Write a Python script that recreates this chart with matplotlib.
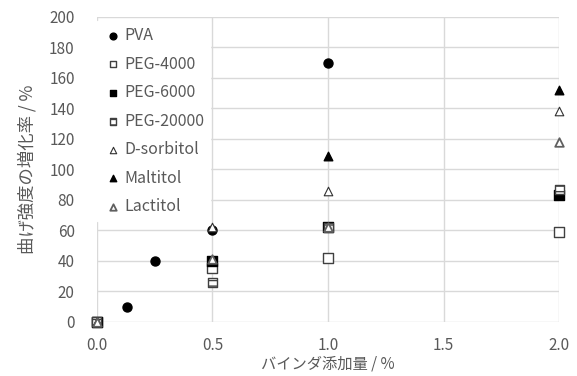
import matplotlib.pyplot as plt
import numpy as np

plt.rcParams['font.family'] = ['Noto Sans CJK JP', 'DejaVu Sans']

# data
pva_x = [0.0, 0.13, 0.25, 0.5, 1.0]
pva_y = [0, 10, 40, 60, 170]
peg4000_x = [0.0, 0.5, 1.0, 2.0]
peg4000_y = [0, 35, 42, 59]
peg6000_x = [0.0, 0.5, 1.0, 2.0]
peg6000_y = [0, 40, 62, 83]
peg20000_x = [0.0, 0.5, 1.0, 2.0]
peg20000_y = [0, 26, 62, 87]
sorbitol_x = [0.0, 0.5, 1.0, 2.0]
sorbitol_y = [0, 62, 86, 138]
maltitol_x = [0.0, 0.5, 1.0, 2.0]
maltitol_y = [0, 40, 109, 152]
lactitol_x = [0.0, 0.5, 1.0, 2.0]
lactitol_y = [0, 41, 62, 118]

grey = '#595959'

fig = plt.figure(figsize=(5.77, 3.76), dpi=100)
ax = fig.add_axes([0.168, 0.144, 0.801, 0.811])

ax.scatter(pva_x, pva_y, marker='o', s=42, color='black', label='PVA', zorder=3, clip_on=False)
ax.scatter(peg4000_x, peg4000_y, marker='s', s=42, facecolor='white', edgecolor='#404040',
           linewidth=1, label='PEG-4000', zorder=3, clip_on=False)
ax.scatter(peg6000_x, peg6000_y, marker='s', s=42, color='black', label='PEG-6000', zorder=3, clip_on=False)
ax.scatter(peg20000_x, peg20000_y, marker='s', s=42, facecolor='white', edgecolor='#404040',
           linewidth=1, hatch='---', label='PEG-20000', zorder=3, clip_on=False)
ax.scatter(sorbitol_x, sorbitol_y, marker='^', s=38, facecolor='white', edgecolor='#303030',
           linewidth=0.8, label='D-sorbitol', zorder=3, clip_on=False)
ax.scatter(maltitol_x, maltitol_y, marker='^', s=38, color='black', label='Maltitol', zorder=3, clip_on=False)
ax.scatter(lactitol_x, lactitol_y, marker='^', s=38, facecolor='white', edgecolor='#606060',
           linewidth=1.3, label='Lactitol', zorder=3, clip_on=False)

ax.set_xlim(0, 2.0)
ax.set_ylim(0, 200)
ax.set_xticks(np.arange(0, 2.01, 0.5))
ax.set_yticks(np.arange(0, 201, 20))
ax.set_xticklabels([f'{v:.1f}' for v in np.arange(0, 2.01, 0.5)])
ax.grid(True, color='#d9d9d9', linewidth=1)
ax.set_axisbelow(True)
for s in ax.spines.values():
    s.set_visible(False)
ax.tick_params(length=0, labelsize=11, labelcolor=grey)
ax.tick_params(axis='y', pad=16)
ax.tick_params(axis='x', pad=11)

ax.set_xlabel('バインダ添加量 / %', fontsize=11, color=grey, labelpad=1)
ax.set_ylabel('曲げ強度の増化率 / %', fontsize=12.5, color=grey, labelpad=9)

leg = ax.legend(loc='upper left', bbox_to_anchor=(0.0, 0.985), frameon=True, fontsize=11.5,
                labelspacing=0.72, handletextpad=0.05, borderpad=0.35, handlelength=1.3,
                markerscale=0.75, borderaxespad=0)
leg.get_frame().set_edgecolor('white')
leg.get_frame().set_facecolor('white')
leg.get_frame().set_alpha(1)
leg.get_frame().set_boxstyle('square', pad=0)
for t in leg.get_texts():
    t.set_color(grey)

fig.savefig('out.png', dpi=100)
